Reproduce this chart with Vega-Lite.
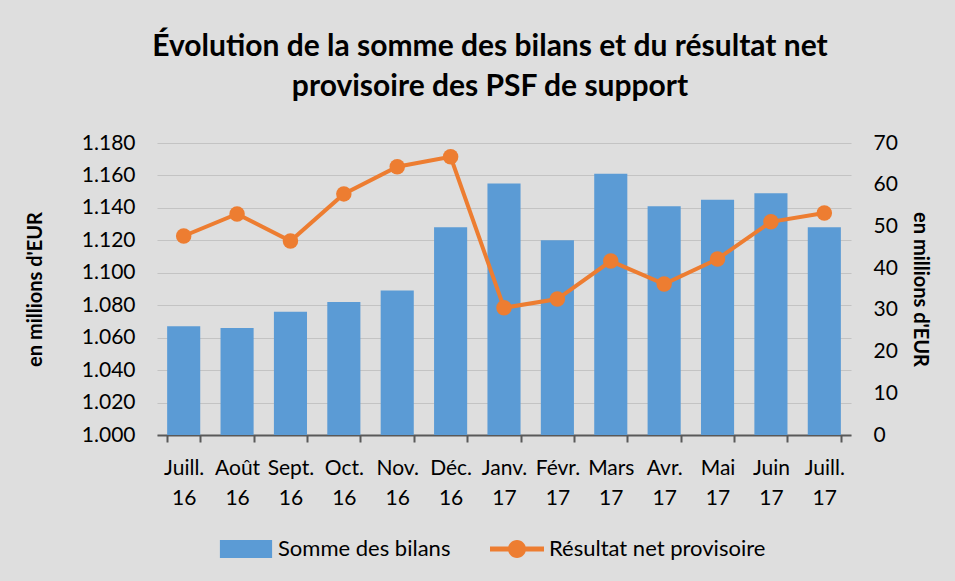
{
  "$schema": "https://vega.github.io/schema/vega-lite/v6.json",
  "autosize": {"type": "none"},
  "width": 694,
  "height": 292,
  "padding": {"left": 157, "top": 143, "right": 104, "bottom": 146},
  "background": "#dedede",
  "title": {
    "text": ["Évolution de la somme des bilans et du résultat net", "provisoire des PSF de support"],
    "font": "Lato",
    "fontSize": 30,
    "fontWeight": "bold",
    "color": "#000000",
    "lineHeight": 40,
    "anchor": "middle",
    "frame": "group",
    "dx": -14,
    "offset": 30
  },
  "config": {
    "view": {"stroke": null},
    "font": "Lato",
    "axis": {"labelFont": "Lato", "titleFont": "Lato", "labelFontSize": 21, "labelColor": "#000000", "titleColor": "#000000"}
  },
  "data": {
    "values": [
      {"mois": "Juill. 16", "bilans": 1.067, "resultat": 47.7},
      {"mois": "Août 16", "bilans": 1.066, "resultat": 53.0},
      {"mois": "Sept. 16", "bilans": 1.076, "resultat": 46.5},
      {"mois": "Oct. 16", "bilans": 1.082, "resultat": 57.8},
      {"mois": "Nov. 16", "bilans": 1.089, "resultat": 64.3},
      {"mois": "Déc. 16", "bilans": 1.128, "resultat": 66.7},
      {"mois": "Janv. 17", "bilans": 1.155, "resultat": 30.5},
      {"mois": "Févr. 17", "bilans": 1.120, "resultat": 32.6},
      {"mois": "Mars 17", "bilans": 1.161, "resultat": 41.7},
      {"mois": "Avr. 17", "bilans": 1.141, "resultat": 36.2},
      {"mois": "Mai 17", "bilans": 1.145, "resultat": 42.2},
      {"mois": "Juin 17", "bilans": 1.149, "resultat": 51.1},
      {"mois": "Juill. 17", "bilans": 1.128, "resultat": 53.2}
    ]
  },
  "encoding": {
    "x": {
      "field": "mois",
      "type": "nominal",
      "sort": null,
      "scale": {"paddingInner": 0.38, "paddingOuter": 0.19},
      "axis": {
        "title": null,
        "labelAngle": 0,
        "labelExpr": "split(datum.label, ' ')",
        "labelLimit": 1000,
        "labelLineHeight": 30,
        "labelPadding": 15,
        "labelBaseline": "top",
        "labelOverlap": false,
        "tickBand": "extent",
        "tickSize": 7,
        "tickColor": "#595959",
        "tickWidth": 2,
        "domainColor": "#595959",
        "domainWidth": 2,
        "grid": false
      }
    }
  },
  "layer": [
    {
      "mark": {"type": "bar", "color": "#5b9bd5"},
      "encoding": {
        "y": {
          "field": "bilans",
          "type": "quantitative",
          "scale": {"domain": [1.0, 1.18], "zero": false, "nice": false},
          "axis": {
            "title": "en millions d'EUR",
            "titleFontSize": 20,
            "titleFontWeight": "bold",
            "titlePadding": 36,
            "values": [1.0, 1.02, 1.04, 1.06, 1.08, 1.1, 1.12, 1.14, 1.16, 1.18],
            "labelExpr": "replace(format(datum.value, '.3f'), ',', '.')",
            "domain": false,
            "ticks": false,
            "labelPadding": 22,
            "gridColor": "#c3c3c3",
            "gridWidth": 1
          }
        },
        "y2": {"datum": 1.0},
        "color": {
          "datum": "Somme des bilans",
          "type": "nominal",
          "scale": {"domain": ["Somme des bilans", "Résultat net provisoire"], "range": ["#5b9bd5", "#ed7d31"]},
          "legend": {
            "title": null,
            "orient": "none",
            "legendX": 59,
            "legendY": 376,
            "direction": "horizontal",
            "labelFontSize": 22,
            "labelFont": "Lato",
            "labelColor": "#000000",
            "labelLimit": 400,
            "symbolSize": 3600,
            "symbolStrokeWidth": 0,
            "columnPadding": 36,
            "labelOffset": 2,
            "encode": {
              "symbols": {
                "update": {
                  "shape": {"signal": "datum.value == 'Somme des bilans' ? 'M-0.87,-0.3H0.87V0.3H-0.87Z' : 'M-0.9,-0.085H-0.2V0.085H-0.9Z M0.2,-0.085H0.9V0.085H0.2Z M-0.3,0 A0.3,0.3 0 1,1 0.3,0 A0.3,0.3 0 1,1 -0.3,0 Z'"},
                  "fill": {"signal": "datum.value == 'Somme des bilans' ? '#5b9bd5' : '#ed7d31'"},
                  "opacity": {"value": 1}
                }
              }
            }
          }
        }
      }
    },
    {
      "mark": {"type": "line", "color": "#ed7d31", "strokeWidth": 4, "point": {"filled": true, "size": 240, "color": "#ed7d31"}},
      "encoding": {
        "y": {
          "field": "resultat",
          "type": "quantitative",
          "scale": {"domain": [0, 70], "nice": false},
          "axis": {
            "orient": "right",
            "title": "en millions d'EUR",
            "titleAngle": 90,
            "titleFontSize": 20,
            "titleFontWeight": "bold",
            "titlePadding": 12,
            "values": [0, 10, 20, 30, 40, 50, 60, 70],
            "domain": false,
            "grid": false,
            "ticks": false,
            "labelPadding": 22
          }
        },
        "color": {"datum": "Résultat net provisoire", "type": "nominal"}
      }
    }
  ],
  "resolve": {"scale": {"y": "independent"}}
}
